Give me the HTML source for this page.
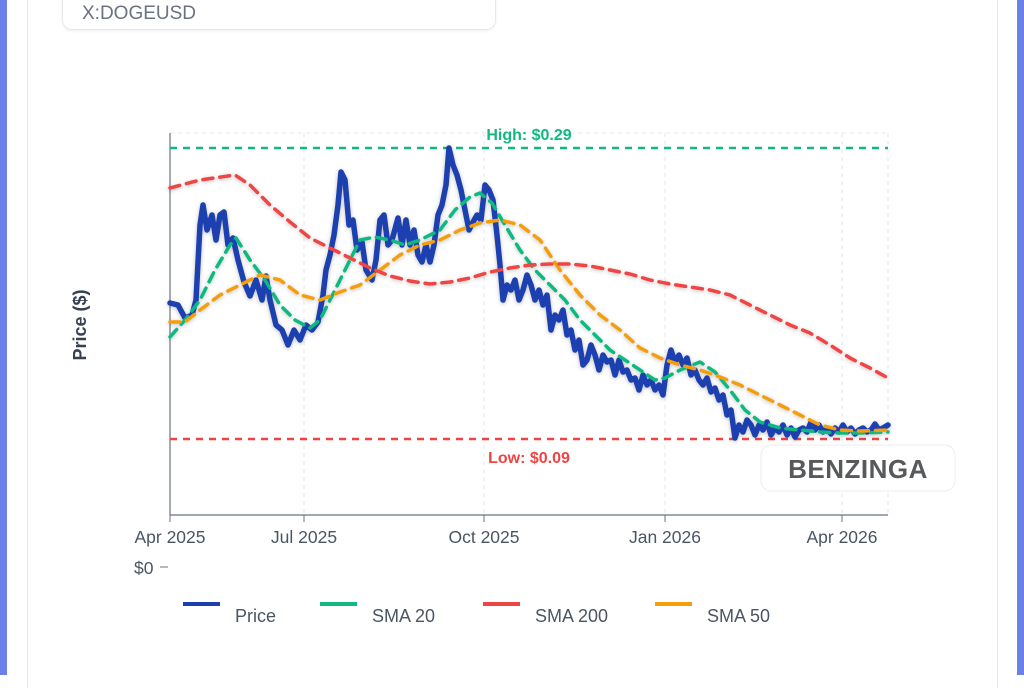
<!DOCTYPE html>
<html><head><meta charset="utf-8"><style>
body{margin:0;width:1024px;height:675px;overflow:hidden;background:#fff;font-family:"Liberation Sans",sans-serif;position:relative}
.lb{position:absolute;left:0;top:0;width:7px;height:675px;background:#6b80e8}
.rb{position:absolute;left:1017px;top:0;width:7px;height:675px;background:#6b80e8}
.card{position:absolute;left:27px;top:-2px;width:969px;height:690px;border-left:1px solid #e5e7eb;border-right:1px solid #e5e7eb}
.tk{position:absolute;left:62px;top:-20px;width:432px;height:48px;border:1px solid #e8e8ec;border-radius:10px;box-shadow:0 1px 3px rgba(0,0,0,.06)}
.tk span{position:absolute;left:19px;top:22px;font-size:19px;color:#6b7280}
</style></head><body>
<div class="lb"></div><div class="rb"></div><div class="card"></div>
<div class="tk"><span>X:DOGEUSD</span></div>
<svg width="1024" height="675" style="position:absolute;left:0;top:0" font-family="Liberation Sans, sans-serif">
<defs><filter id="sh" x="-5%" y="-5%" width="110%" height="110%"><feDropShadow dx="0" dy="1" stdDeviation="2" flood-opacity="0.25"/></filter></defs>
<g stroke="#e5e7eb" stroke-dasharray="4,4" stroke-width="1">
<line x1="304" y1="133" x2="304" y2="515"/><line x1="484" y1="133" x2="484" y2="515"/><line x1="665" y1="133" x2="665" y2="515"/><line x1="842" y1="133" x2="842" y2="515"/><line x1="888" y1="133" x2="888" y2="515"/>
<line x1="170" y1="133" x2="888" y2="133"/>
</g>
<line x1="170" y1="133" x2="170" y2="515" stroke="#6b7280" stroke-width="1.2"/>
<line x1="170" y1="515" x2="888" y2="515" stroke="#6b7280" stroke-width="1.2"/>
<g stroke="#6b7280"><line x1="170" y1="515" x2="170" y2="522"/><line x1="304" y1="515" x2="304" y2="522"/><line x1="484" y1="515" x2="484" y2="522"/><line x1="665" y1="515" x2="665" y2="522"/><line x1="842" y1="515" x2="842" y2="522"/></g>
<g font-size="17.5" fill="#4b5563" text-anchor="middle">
<text x="170" y="543">Apr 2025</text><text x="304" y="543">Jul 2025</text><text x="484" y="543">Oct 2025</text><text x="665" y="543">Jan 2026</text><text x="842" y="543">Apr 2026</text>
</g>
<text x="134" y="574" font-size="17.5" fill="#4b5563">$0</text><line x1="160" y1="567" x2="168" y2="567" stroke="#6b7280"/>
<text transform="translate(86,325) rotate(-90)" text-anchor="middle" font-size="18" font-weight="bold" fill="#374151">Price ($)</text>
<line x1="170" y1="148" x2="888" y2="148" stroke="#10b981" stroke-width="2.5" stroke-dasharray="7,6"/>
<text x="529" y="140" text-anchor="middle" font-size="16" font-weight="bold" fill="#10b981">High: $0.29</text>
<line x1="170" y1="439" x2="888" y2="439" stroke="#ef4444" stroke-width="2.5" stroke-dasharray="7,6"/>
<text x="529" y="463" text-anchor="middle" font-size="16" font-weight="bold" fill="#ef4444">Low: $0.09</text>
<g fill="none" stroke-linejoin="round" stroke-linecap="round" filter="url(#sh)">
<polyline stroke="#1e40af" stroke-width="5.5" points="170,303 178,305 185,318 192,315 196,300 200,225 203,205 207,230 212,215 216,240 220,215 224,212 228,245 233,238 238,260 244,282 250,296 256,280 262,300 266,276 270,300 276,325 282,330 288,345 294,330 300,340 306,325 312,330 318,322 323,295 326,270 330,255 334,235 338,205 341,172 345,180 349,225 353,220 357,250 362,242 366,270 372,280 376,260 380,220 384,215 388,245 392,240 398,218 402,245 406,220 410,245 414,230 418,255 422,262 426,245 430,262 434,245 438,215 442,205 446,185 449,148 453,165 457,175 461,190 465,210 469,230 473,222 477,215 481,220 485,185 489,190 493,200 497,235 500,265 503,300 507,285 511,290 515,280 519,300 523,290 527,275 531,285 535,300 539,290 543,305 547,295 551,330 555,315 559,320 563,310 567,335 571,330 575,350 579,340 583,365 587,360 591,345 595,355 599,370 603,355 607,362 611,360 615,375 619,360 623,372 627,370 631,380 635,378 639,390 643,375 647,385 651,380 655,390 659,385 663,395 667,365 671,350 675,362 679,355 683,365 687,358 691,375 695,370 699,380 703,385 707,378 711,392 715,388 719,400 723,395 727,415 731,410 735,438 739,425 743,432 747,420 751,425 755,435 759,425 763,430 767,422 771,435 775,428 779,432 783,425 787,435 791,428 795,437 799,430 803,428 807,432 811,422 815,430 819,425 823,432 827,428 831,434 835,428 839,432 843,425 847,432 851,428 855,434 859,430 863,428 867,432 871,430 875,424 879,430 883,428 888,425"/>
<polyline stroke="#10b981" stroke-width="3.5" stroke-dasharray="10,7" points="170,337 185,320 200,300 215,270 230,245 236,238 250,260 265,280 280,305 295,320 310,328 320,320 330,300 345,270 360,240 375,237 390,240 405,245 420,240 440,230 455,210 470,197 480,193 492,203 505,225 520,250 535,270 550,285 565,300 580,320 595,335 610,350 625,360 640,370 655,380 665,378 680,370 700,362 715,372 730,390 745,410 760,422 780,428 800,430 820,432 840,433 860,433 888,432"/>
<polyline stroke="#f59e0b" stroke-width="3.5" stroke-dasharray="10,7" points="170,322 185,322 200,310 220,295 240,285 260,275 280,280 300,295 320,300 340,292 360,285 380,270 400,255 420,245 440,240 460,230 480,223 500,220 520,225 540,240 560,270 580,295 600,315 620,330 640,348 660,358 680,365 700,370 720,377 740,385 760,395 780,405 800,415 820,425 840,430 860,431 888,430"/>
<polyline stroke="#ef4444" stroke-width="3.5" stroke-dasharray="10,7" points="170,188 200,180 235,175 250,185 270,205 290,222 310,238 330,248 350,258 370,268 390,276 410,281 430,284 450,282 470,278 490,272 510,268 530,265 550,264 570,264 590,266 610,270 630,274 650,280 670,284 690,287 710,290 730,295 750,305 770,315 790,325 810,333 830,345 850,358 870,368 888,378"/>
</g>
<rect x="761" y="445" width="194" height="46" rx="10" fill="rgba(255,255,255,0.85)" stroke="#ececee"/>
<text x="858" y="478" text-anchor="middle" font-size="26" font-weight="bold" fill="#58595b" letter-spacing="0.5">BENZINGA</text>
<g stroke-width="4"><line x1="183" y1="604" x2="220" y2="604" stroke="#1e40af"/><line x1="320" y1="604" x2="357" y2="604" stroke="#10b981"/><line x1="483" y1="604" x2="520" y2="604" stroke="#ef4444"/><line x1="655" y1="604" x2="692" y2="604" stroke="#f59e0b"/></g>
<g font-size="18" fill="#4b5563"><text x="235" y="622">Price</text><text x="372" y="622">SMA 20</text><text x="535" y="622">SMA 200</text><text x="707" y="622">SMA 50</text></g>
</svg>
</body></html>
